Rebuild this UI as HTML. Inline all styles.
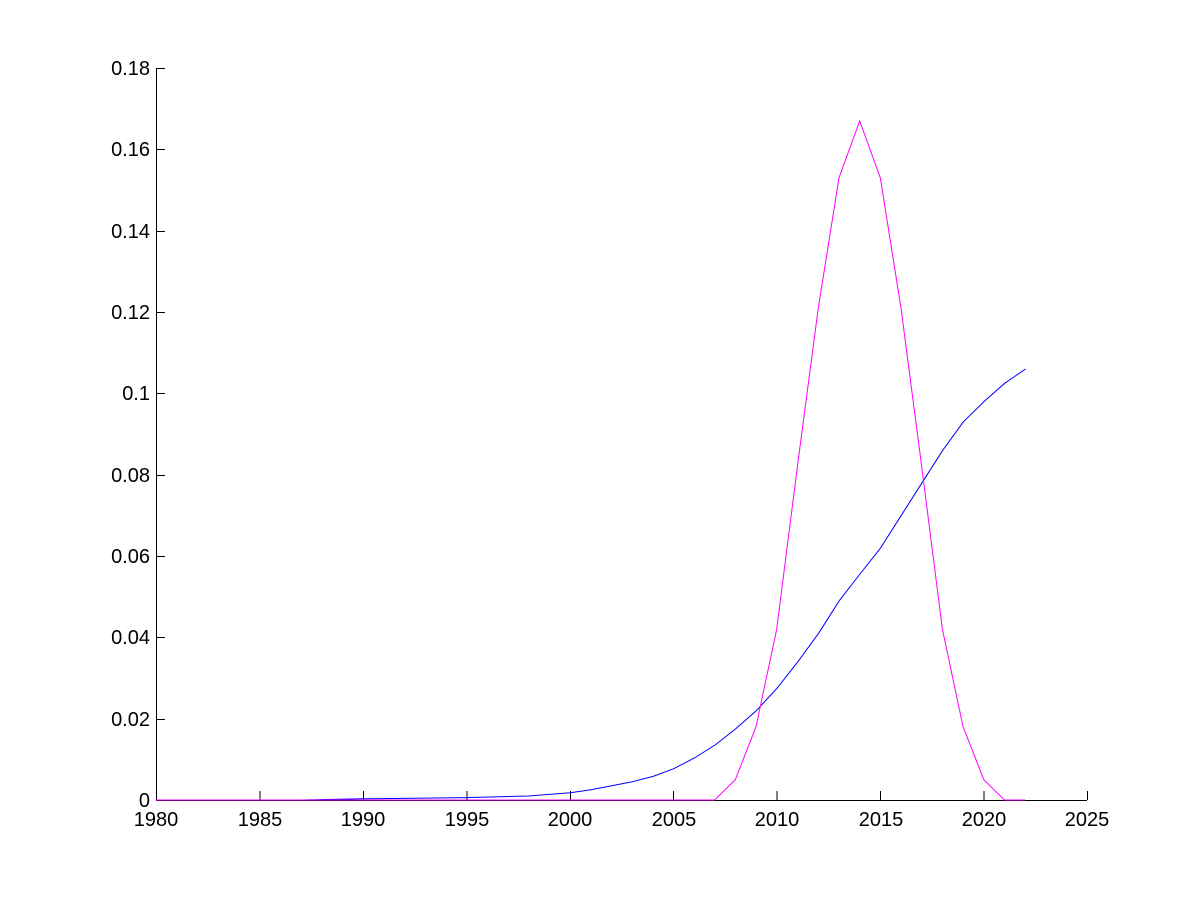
<!DOCTYPE html>
<html><head><style>html,body{margin:0;padding:0;background:#fff}svg{display:block}text{font-family:"Liberation Sans",Arial,sans-serif;font-size:20px;fill:#000}</style></head>
<body>
<svg width="1200" height="900" viewBox="0 0 1200 900" xmlns="http://www.w3.org/2000/svg">
<rect width="1200" height="900" fill="#fff"/>
<g stroke="#000" stroke-width="1" fill="none" shape-rendering="crispEdges">
<line x1="156" y1="800.5" x2="1087" y2="800.5"/>
<line x1="156.5" y1="68" x2="156.5" y2="800"/>
<path d="M156.5 800v-9M259.9 800v-9M363.4 800v-9M466.8 800v-9M570.3 800v-9M673.7 800v-9M777.2 800v-9M880.6 800v-9M984.1 800v-9M1087.5 800v-9"/>
<path d="M156 800.5h9M156 719.5h9M156 637.5h9M156 556.5h9M156 475.5h9M156 393.5h9M156 312.5h9M156 231.5h9M156 149.5h9M156 68.5h9"/>
</g>
<g text-anchor="middle">
<text x="156" y="826">1980</text><text x="260" y="826">1985</text><text x="363" y="826">1990</text><text x="467" y="826">1995</text><text x="570" y="826">2000</text><text x="674" y="826">2005</text><text x="777" y="826">2010</text><text x="881" y="826">2015</text><text x="984" y="826">2020</text><text x="1087" y="826">2025</text>
</g>
<g text-anchor="end">
<text x="150" y="807">0</text><text x="150" y="726">0.02</text><text x="150" y="644">0.04</text><text x="150" y="563">0.06</text><text x="150" y="482">0.08</text><text x="150" y="400">0.1</text><text x="150" y="319">0.12</text><text x="150" y="238">0.14</text><text x="150" y="156">0.16</text><text x="150" y="75">0.18</text>
</g>
<polyline fill="none" stroke="#0000ff" stroke-width="1" points="156,800 301,800 363.4,798.8 466.8,797.6 528.4,796 570.3,792.7 591,789.8 611.7,785.8 632.4,781.7 653.1,776.4 673.7,768.7 694.4,758 715.1,745 735.8,728.8 756.5,710.5 777.2,688 797.9,661.7 818.6,633.3 839.3,600.7 860,574 880.6,547.9 901.3,515.3 922,482.8 942.7,450.3 963.4,421.8 984.1,401.5 1004.8,383.2 1025.5,369"/>
<polyline fill="none" stroke="#ff00ff" stroke-width="1" points="156,800 714.6,800 735.3,779.7 756,726.8 776.7,629.2 797.4,466.5 818.3,308 839,177.8 859.7,120.9 880.3,177.8 901,308 921.7,466.5 942.4,629.2 963.1,726.8 983.8,779.7 1004.5,800 1025.2,800"/>
</svg>
</body></html>
